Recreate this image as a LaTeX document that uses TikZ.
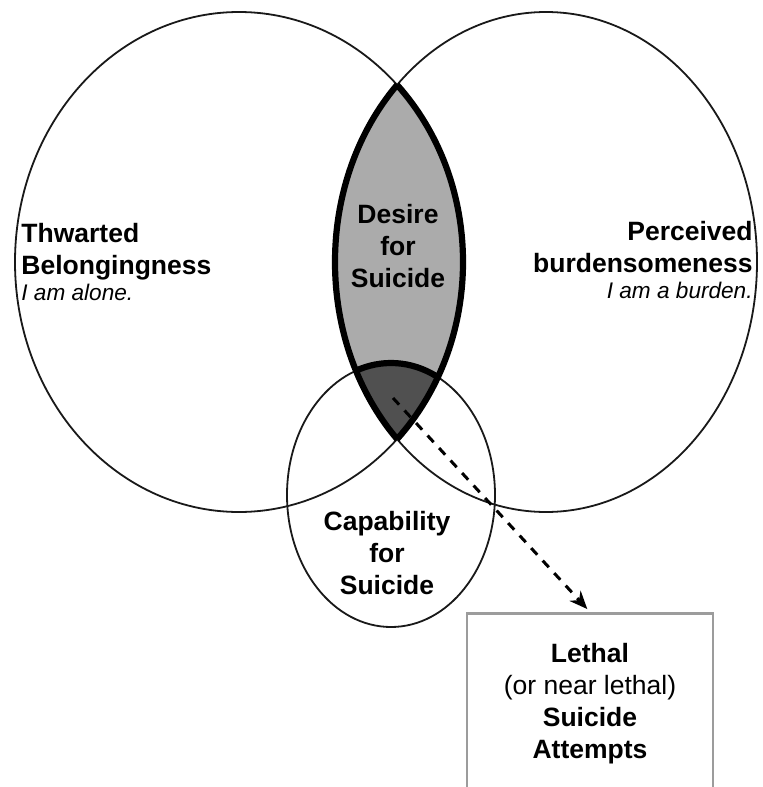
\documentclass[tikz,border=0pt]{standalone}
\usepackage{fontspec}
\setmainfont{Liberation Sans}
\usetikzlibrary{positioning}
\usetikzlibrary{arrows.meta}

\definecolor{desiregray}{HTML}{ABABAB}
\definecolor{capgray}{HTML}{505050}
\definecolor{boxgray}{HTML}{9C9C9C}

% the three sets, in pixel units of the picture
\newcommand\tbshape{(239,262) ellipse [x radius=112pt, y radius=125pt]}
\newcommand\pbshape{(546,262) ellipse [x radius=105.5pt, y radius=125pt]}
\newcommand\capshape{(391,495) ellipse [x radius=52pt, y radius=66pt]}
\newcommand\selftalk[1]{{\fontsize{11.3}{13}\selectfont\mdseries\itshape #1}}

\tikzset{
  ring/.style={draw=black!90, line width=0.9pt},
  rim/.style={draw=black, line width=3.1pt},
  bigfont/.style={font=\fontsize{13.25}{16}\selectfont\bfseries},
  outcome/.style={draw=boxgray, line width=1.3pt, fill=white},
  hop/.style={line width=1.5pt, dash pattern=on 4.5pt off 4pt,
    -{Stealth[length=9pt,width=7.5pt]}, shorten >=2pt},
}

\begin{document}
\begin{tikzpicture}[x=0.5pt,y=-0.5pt]
\clip (0,0) rectangle (763,787);
\fill[white] (0,0) rectangle (763,787);

% shaded overlaps
\begin{scope}
\clip \tbshape;
\fill[desiregray] \pbshape;
\end{scope}
\begin{scope}
\clip \tbshape;
\clip \pbshape;
\fill[capgray] \capshape;
\end{scope}

% outlines
\draw[ring] \tbshape;
\draw[ring] \pbshape;
\draw[ring] \capshape;

% heavy rim round the overlap
\begin{scope}
\clip \tbshape;
\draw[rim] \pbshape;
\end{scope}
\begin{scope}
\clip \pbshape;
\draw[rim] \tbshape;
\end{scope}
\begin{scope}
\clip \tbshape;
\clip \pbshape;
\draw[rim] \capshape;
\end{scope}

% labels
\node[bigfont, align=left, anchor=west, inner sep=0pt] (tb) at (21,262)
  {Thwarted\\Belongingness\\[-3pt]\selftalk{I am alone.}};
\node[bigfont, align=right, anchor=east, inner sep=0pt] (pb) at (753,260)
  {Perceived\\burdensomeness\\[-3pt]\selftalk{I am a burden.}};
\node[bigfont, align=center] (desire) at (398,246) {Desire\\for\\Suicide};
\node[bigfont, align=center] (capable) at (387,553) {Capability\\for\\Suicide};

\node[outcome, bigfont, align=center, anchor=north,
  minimum width=123pt, minimum height=90pt] (attempt) at (590,612)
  {Lethal\\{\mdseries (or near lethal)}\\Suicide\\Attempts};

\coordinate (spark) at (393,398);
\draw[hop] (spark) -- (attempt.north);
\end{tikzpicture}
\end{document}
